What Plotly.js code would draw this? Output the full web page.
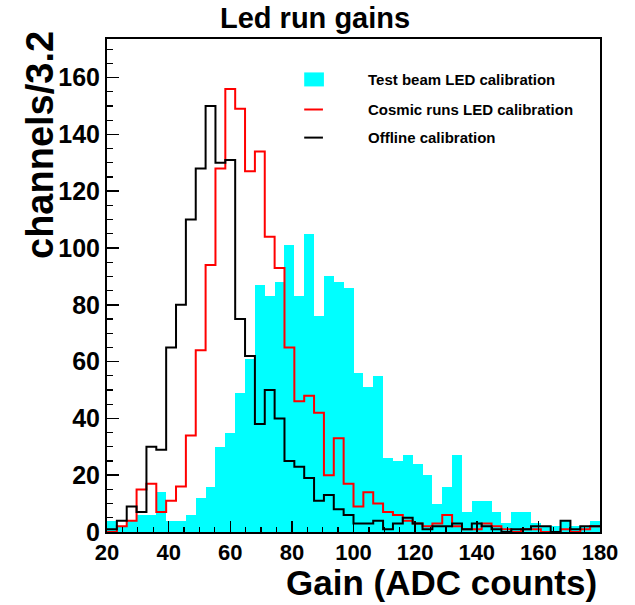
<!DOCTYPE html>
<html>
<head>
<meta charset="utf-8">
<script src="https://cdn.plot.ly/plotly-3.0.1.min.js"></script>
<style>
  html, body { margin: 0; padding: 0; background: #ffffff; }
  #chart { width: 635px; height: 605px; }
</style>
</head>
<body>
<div id="chart"></div>
<script>
// Histogram binning: 50 bins of width 3.2 between 20 and 180 ADC counts
const binLow = 20;
const binWidth = 3.2;

// Channels per bin for each calibration
const testBeamLED = [4, 2, 4, 6, 6, 14, 4, 4, 6, 12,
                     16, 30, 35, 49, 61, 87, 83, 88, 101, 83,
                     105, 76, 90, 88, 86, 56, 51, 55, 26, 25,
                     27, 24, 20, 10, 16, 27, 7, 11, 11, 7,
                     3, 7, 7, 3, 2, 2, 4, 2, 2, 4];
const cosmicLED = [0, 2, 4, 15, 17, 7, 11, 16, 34, 64,
                   94, 128, 156, 149, 127, 134, 104, 93, 65, 46,
                   48, 42, 20, 33, 17, 9, 14, 10, 7, 6,
                   4, 3, 2, 3, 6, 2, 1, 1, 3, 2,
                   1, 0, 1, 1, 0, 0, 1, 0, 1, 2];
const offlineCalib = [1, 4, 9, 7, 30, 29, 65, 80, 110, 128,
                      150, 130, 131, 75, 62, 38, 50, 40, 25, 23,
                      19, 11, 13, 8, 6, 3, 3, 4, 1, 3,
                      5, 3, 1, 2, 2, 3, 1, 3, 2, 1,
                      0, 1, 1, 2, 2, 0, 4, 1, 2, 2];

const seriesNames = ["Test beam LED calibration", "Cosmic runs LED calibration", "Offline calibration"];

// Bin centres for the filled histogram, bin edges for the outlined ones
const centers = testBeamLED.map((_, i) => binLow + binWidth * (i + 0.5));
const edges = [];
for (let i = 0; i <= testBeamLED.length; i++) edges.push(binLow + binWidth * i);
const stepY = arr => arr.concat([arr[arr.length - 1]]);

const FONT = "Liberation Sans, Arial, Helvetica, sans-serif";

const traces = [
  {
    type: "bar", name: seriesNames[0],
    x: centers, y: testBeamLED, width: binWidth,
    marker: { color: "#00ffff", line: { width: 0 } },
    showlegend: false, hoverinfo: "x+y"
  },
  {
    type: "scatter", mode: "lines", name: seriesNames[1],
    x: edges, y: stepY(cosmicLED),
    line: { color: "#ff0000", width: 2, shape: "hv" },
    showlegend: false
  },
  {
    type: "scatter", mode: "lines", name: seriesNames[2],
    x: edges, y: stepY(offlineCalib),
    line: { color: "#000000", width: 2, shape: "hv" },
    showlegend: false
  }
];

// Legend drawn in paper space, ROOT style (no border)
const legendRows = [0.918, 0.857, 0.800];
const legendShapes = [
  { type: "rect", xref: "paper", yref: "paper", x0: 0.4, x1: 0.44, y0: legendRows[0] - 0.0142, y1: legendRows[0] + 0.0142,
    fillcolor: "#00ffff", line: { width: 0 } },
  { type: "line", xref: "paper", yref: "paper", x0: 0.4, x1: 0.438, y0: legendRows[1], y1: legendRows[1],
    line: { color: "#ff0000", width: 2 } },
  { type: "line", xref: "paper", yref: "paper", x0: 0.4, x1: 0.438, y0: legendRows[2], y1: legendRows[2],
    line: { color: "#000000", width: 2 } }
];
const legendLabels = seriesNames.map((name, i) => ({
  text: name, xref: "paper", yref: "paper", x: 0.525, y: legendRows[i],
  xanchor: "left", yanchor: "middle", showarrow: false,
  font: { family: FONT, size: 15, weight: "bold", color: "#000000" }
}));

const layout = {
  width: 635, height: 605,
  margin: { l: 107, r: 35, t: 39, b: 73 },
  paper_bgcolor: "#ffffff", plot_bgcolor: "#ffffff",
  bargap: 0, barmode: "overlay",
  showlegend: false,
  xaxis: {
    range: [20, 180], dtick: 20, tick0: 20,
    showgrid: false, zeroline: false,
    showline: true, linecolor: "#000000", linewidth: 2, mirror: true,
    ticks: "inside", ticklen: 11, tickwidth: 1.5, tickcolor: "#000000",
    minor: { dtick: 5, ticks: "inside", ticklen: 5, tickwidth: 1.2, tickcolor: "#000000", showgrid: false },
    tickfont: { family: FONT, size: 22, weight: "bold", color: "#000000" },
    ticklabelstandoff: 0
  },
  yaxis: {
    range: [0, 173.6], dtick: 20, tick0: 0,
    showgrid: false, zeroline: false,
    showline: true, linecolor: "#000000", linewidth: 2, mirror: true,
    ticks: "inside", ticklen: 12, tickwidth: 1.5, tickcolor: "#000000",
    minor: { dtick: 5, ticks: "inside", ticklen: 6, tickwidth: 1.2, tickcolor: "#000000", showgrid: false },
    tickfont: { family: FONT, size: 25, weight: "bold", color: "#000000" }
  },
  shapes: legendShapes,
  annotations: [
    { text: "Led run gains", xref: "paper", yref: "paper", x: 0.422, y: 1.0, yshift: 21,
      xanchor: "center", yanchor: "middle", showarrow: false,
      font: { family: FONT, size: 29, weight: "bold", color: "#000000" } },
    { text: "Gain (ADC counts)", xref: "paper", yref: "paper", x: 1.0, xshift: -1, y: 0, yshift: -50,
      xanchor: "right", yanchor: "middle", showarrow: false,
      font: { family: FONT, size: 35, weight: "bold", color: "#000000" } },
    { text: "channels/3.2", xref: "paper", yref: "paper", x: 0, xshift: -67, y: 1.0, yshift: 10,
      xanchor: "center", yanchor: "top", textangle: -90, showarrow: false,
      font: { family: FONT, size: 38, weight: "bold", color: "#000000" } }
  ].concat(legendLabels)
};

Plotly.newPlot("chart", traces, layout, { displayModeBar: false, staticPlot: true });
</script>
</body>
</html>
